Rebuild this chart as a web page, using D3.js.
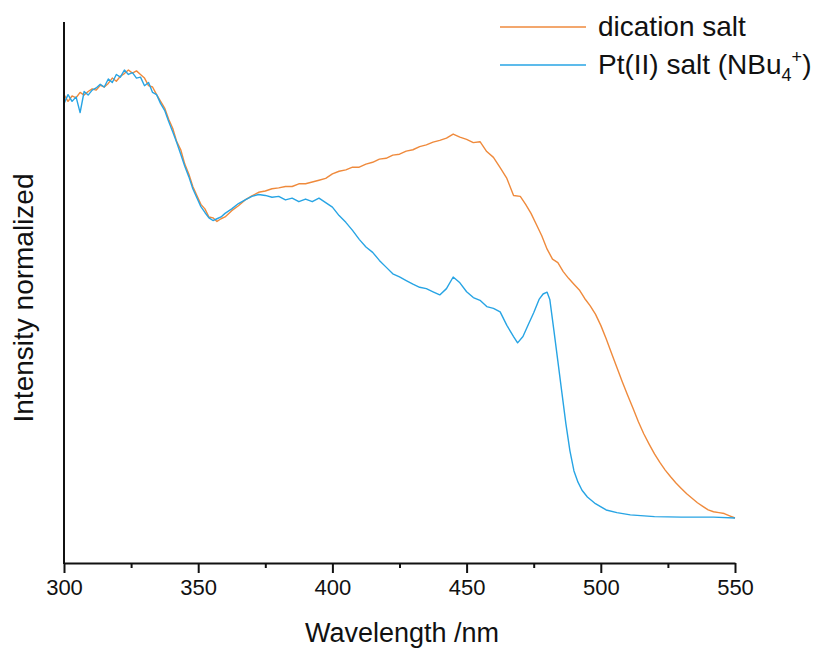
<!DOCTYPE html>
<html>
<head>
<meta charset="utf-8">
<script src="https://cdn.jsdelivr.net/npm/d3@7"></script>
<style>
  body { margin: 0; background: #fff; }
  text { font-family: "Liberation Sans", Arial, sans-serif; fill: #111; }
</style>
</head>
<body>
<div id="chart"></div>
<script>
// 圖表尺寸
const width = 819;
const height = 650;
const margin = { top: 22, right: 84, bottom: 87, left: 64 };

// 波長 (nm) 與強度 — dication salt
const dicationWl = [300, 301.5, 303, 304.5, 306, 307.5, 309, 310.5, 312, 313.5, 315, 316.5, 318, 319.5, 321, 322.5, 324, 325.5, 327, 328.5, 330, 331.5, 333, 334.5, 336, 337.5, 339, 340.5, 342, 343.5, 345, 346.5, 348, 349.5, 351, 352.5, 354, 355.5, 357, 358.5, 360, 362.5, 365, 367.5, 370, 372.5, 375, 377.5, 380, 382.5, 385, 387.5, 390, 392.5, 395, 397.5, 400, 402.5, 405, 407.5, 410, 412.5, 415, 417.5, 420, 422.5, 425, 427.5, 430, 432.5, 435, 437.5, 440, 442.5, 445, 447.5, 450, 452.5, 455, 457.5, 460, 462.5, 465, 467.5, 470, 472, 474, 476, 478, 480, 482, 484, 486, 488, 490, 492, 494, 496, 498, 500, 502, 504, 506, 508, 510, 512, 514, 516, 518, 520, 522, 524, 526, 528, 530, 532, 534, 536, 538, 540, 542, 544, 546, 548, 550];
const dicationInt = [0.945, 0.930, 0.942, 0.938, 0.950, 0.944, 0.952, 0.958, 0.955, 0.966, 0.962, 0.970, 0.982, 0.975, 0.986, 0.992, 1.000, 0.993, 0.998, 0.990, 0.982, 0.965, 0.962, 0.945, 0.930, 0.915, 0.890, 0.870, 0.840, 0.822, 0.790, 0.768, 0.740, 0.720, 0.700, 0.690, 0.672, 0.670, 0.662, 0.668, 0.672, 0.686, 0.697, 0.710, 0.719, 0.727, 0.730, 0.735, 0.737, 0.740, 0.740, 0.746, 0.746, 0.750, 0.754, 0.758, 0.768, 0.774, 0.777, 0.783, 0.783, 0.790, 0.794, 0.801, 0.803, 0.810, 0.812, 0.819, 0.822, 0.829, 0.833, 0.839, 0.843, 0.848, 0.857, 0.850, 0.845, 0.838, 0.840, 0.818, 0.805, 0.782, 0.758, 0.720, 0.718, 0.700, 0.680, 0.655, 0.630, 0.600, 0.578, 0.570, 0.550, 0.535, 0.522, 0.509, 0.490, 0.474, 0.455, 0.430, 0.400, 0.368, 0.336, 0.304, 0.274, 0.245, 0.215, 0.188, 0.165, 0.143, 0.124, 0.107, 0.092, 0.078, 0.066, 0.054, 0.044, 0.034, 0.026, 0.018, 0.014, 0.012, 0.010, 0.005, 0.000];

// Pt(II) salt (NBu4+)
const ptWl = [300, 301.5, 303, 304.5, 306, 307.5, 309, 310.5, 312, 313.5, 315, 316.5, 318, 319.5, 321, 322.5, 324, 325.5, 327, 328.5, 330, 331.5, 333, 334.5, 336, 337.5, 339, 340.5, 342, 343.5, 345, 346.5, 348, 349.5, 351, 352.5, 354, 355.5, 357, 358.5, 360, 362.5, 365, 367.5, 370, 372.5, 375, 377.5, 380, 382.5, 385, 387.5, 390, 392.5, 395, 397.5, 400, 402.5, 405, 407.5, 410, 412.5, 415, 417.5, 420, 422.5, 425, 427.5, 430, 432.5, 435, 437.5, 440, 442.5, 445, 447.5, 450, 452.5, 455, 457.5, 460, 462.5, 465, 467.5, 469, 471, 473, 475, 477, 478.5, 480, 481, 482.5, 484, 485.5, 487, 488.5, 490, 491.5, 493, 495, 498, 502, 506, 511, 520, 530, 542, 550];
const ptInt = [0.925, 0.945, 0.930, 0.940, 0.905, 0.952, 0.944, 0.955, 0.960, 0.968, 0.962, 0.980, 0.972, 0.990, 0.984, 1.000, 0.990, 0.994, 0.982, 0.984, 0.965, 0.972, 0.950, 0.945, 0.925, 0.910, 0.885, 0.862, 0.838, 0.812, 0.785, 0.762, 0.735, 0.715, 0.695, 0.682, 0.670, 0.664, 0.668, 0.672, 0.680, 0.690, 0.702, 0.710, 0.718, 0.722, 0.720, 0.716, 0.718, 0.710, 0.714, 0.706, 0.712, 0.706, 0.714, 0.704, 0.694, 0.675, 0.660, 0.642, 0.622, 0.605, 0.593, 0.575, 0.560, 0.545, 0.538, 0.530, 0.522, 0.515, 0.512, 0.505, 0.498, 0.512, 0.538, 0.525, 0.505, 0.492, 0.486, 0.472, 0.468, 0.460, 0.430, 0.405, 0.391, 0.405, 0.432, 0.458, 0.488, 0.500, 0.504, 0.488, 0.420, 0.350, 0.280, 0.210, 0.150, 0.105, 0.080, 0.062, 0.047, 0.032, 0.018, 0.012, 0.007, 0.003, 0.002, 0.002, 0.000];

const seriesNames = ["dication salt", "Pt(II) salt (NBu"];
const seriesColors = ["#ef8a3c", "#27a4e4"];
const xTicks = [300, 350, 400, 450, 500, 550];
const xMinorTicks = [325, 375, 425, 475, 525];

const svg = d3.select("#chart").append("svg")
  .attr("width", width)
  .attr("height", height);

const x = d3.scaleLinear().domain([300, 550]).range([margin.left, width - margin.right]);
// 強度 0 在 518px，最大值在 70px
const y = d3.scaleLinear().domain([-0.1004, 1]).range([height - margin.bottom, 70]);

const series = [
  dicationWl.map((w, i) => ({ w: w, v: dicationInt[i] })),
  ptWl.map((w, i) => ({ w: w, v: ptInt[i] }))
];

const line = d3.line().x(d => x(d.w)).y(d => y(d.v));

series.forEach((s, i) => {
  svg.append("path")
    .datum(s)
    .attr("fill", "none")
    .attr("stroke", seriesColors[i])
    .attr("stroke-width", 1.4)
    .attr("stroke-linejoin", "round")
    .attr("d", line);
});

// x 軸 (主刻度 + 次刻度)
const xAxis = svg.append("g")
  .attr("transform", `translate(0,${height - margin.bottom})`)
  .call(d3.axisBottom(x).tickValues(xTicks).tickSize(10).tickSizeOuter(0).tickPadding(6));
xAxis.select(".domain").attr("stroke", "#111").attr("stroke-width", 2);
xAxis.selectAll(".tick line").attr("stroke", "#111").attr("stroke-width", 2);
xAxis.selectAll(".tick text")
  .style("font-size", "22px")
  .style("font-family", "Liberation Sans, Arial, sans-serif")
  .attr("fill", "#111");

svg.append("g")
  .attr("transform", `translate(0,${height - margin.bottom})`)
  .call(d3.axisBottom(x).tickValues(xMinorTicks).tickSize(5).tickFormat(""))
  .call(g => g.select(".domain").remove())
  .selectAll(".tick line").attr("stroke", "#111").attr("stroke-width", 2);

// y 軸線 (無刻度)
svg.append("line")
  .attr("x1", margin.left).attr("x2", margin.left)
  .attr("y1", margin.top).attr("y2", height - margin.bottom + 1)
  .attr("stroke", "#111").attr("stroke-width", 2);

// 軸標題
svg.append("text")
  .attr("x", 402)
  .attr("y", 642)
  .attr("text-anchor", "middle")
  .style("font-size", "27px")
  .text("Wavelength /nm");

svg.append("text")
  .attr("transform", `translate(33,298) rotate(-90)`)
  .attr("text-anchor", "middle")
  .style("font-size", "28px")
  .text("Intensity normalized");

// 圖例
const legend = svg.append("g").attr("transform", "translate(500,0)");
const legendY = [27, 65];
seriesNames.forEach((name, i) => {
  legend.append("line")
    .attr("x1", 0).attr("x2", 86)
    .attr("y1", legendY[i]).attr("y2", legendY[i])
    .attr("stroke", seriesColors[i]).attr("stroke-width", 1.5);
  const t = legend.append("text")
    .attr("x", 98)
    .attr("y", legendY[i] + 9)
    .style("font-size", "28px")
    .text(name);
  if (i === 1) {
    t.append("tspan").attr("dy", 7).style("font-size", "18px").text("4");
    t.append("tspan").attr("dy", -18).style("font-size", "18px").text("+");
    t.append("tspan").attr("dy", 11).text(")");
  }
});
</script>
</body>
</html>
